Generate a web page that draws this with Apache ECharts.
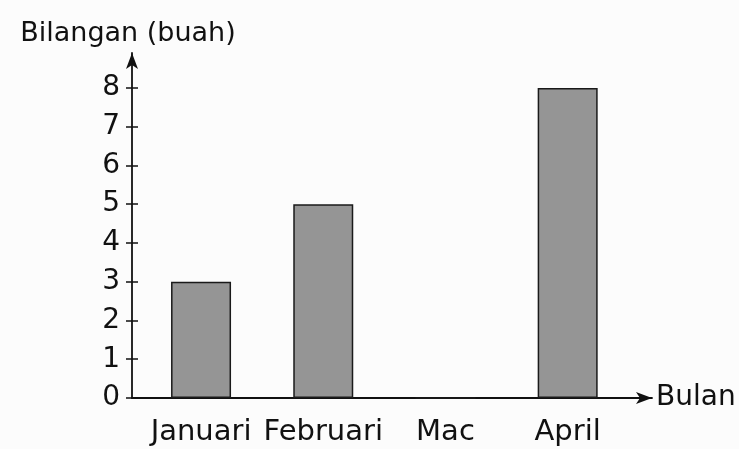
<!DOCTYPE html>
<html>
<head>
<meta charset="utf-8">
<script src="https://cdn.jsdelivr.net/npm/echarts@6/dist/echarts.min.js"></script>
<style>
  html, body { margin: 0; padding: 0; background: #fcfcfc; }
  #chart { width: 739px; height: 449px; }
</style>
</head>
<body>
<div id="chart"></div>
<script>
const months = ['Januari', 'Februari', 'Mac', 'April'];
const counts = [3, 5, 0, 8];
const yTicks = [0, 1, 2, 3, 4, 5, 6, 7, 8];

const font = 'DejaVu Sans';
const ink = '#111';

const chart = echarts.init(document.getElementById('chart'));

const barData = months.map((m, i) => [i, counts[i]]);

chart.setOption({
    backgroundColor: '#fcfcfc',
    animation: false,
    grid: { left: 132, right: 87, top: 53, bottom: 51 },
    xAxis: {
        type: 'value',
        min: -0.565,
        max: 3.69,
        splitLine: { show: false },
        axisLine: {
            onZero: false,
            lineStyle: { color: ink, width: 1.8 },
            symbol: ['none', 'arrow'],
            symbolSize: [9, 16]
        },
        axisTick: { show: false },
        axisLabel: {
            customValues: [0, 1, 2, 3],
            formatter: v => months[Math.round(v)],
            color: ink,
            fontFamily: font,
            fontSize: 29,
            margin: 20
        },
        name: 'Bulan',
        nameLocation: 'end',
        nameGap: 4,
        nameTextStyle: { color: ink, fontFamily: font, fontSize: 28 }
    },
    yAxis: [
        {
            type: 'value',
            min: 0,
            max: 8.9,
            splitLine: { show: false },
            axisLine: {
                show: true,
                onZero: false,
                lineStyle: { color: ink, width: 1.8 },
                symbol: ['none', 'arrow'],
                symbolSize: [9, 16]
            },
            axisTick: { show: true, length: 6, customValues: yTicks, lineStyle: { color: ink, width: 1.5 } },
            axisLabel: {
                customValues: yTicks,
                color: ink,
                fontFamily: font,
                fontSize: 28,
                margin: 12
            },
            name: 'Bilangan (buah)',
            nameLocation: 'end',
            nameGap: 6,
            nameTextStyle: { color: ink, fontFamily: font, fontSize: 27, align: 'center', padding: [0, 0, 0, -8] }
        },
        {
            type: 'value',
            min: 0,
            max: 8.9,
            position: 'left',
            splitLine: { show: false },
            axisLine: { show: false, onZero: false },
            axisTick: { show: true, inside: true, length: 6, customValues: yTicks, lineStyle: { color: ink, width: 1.5 } },
            axisLabel: { show: false }
        }
    ],
    series: [
        {
            type: 'bar',
            data: barData,
            barWidth: 60,
            itemStyle: { color: '#959595', borderColor: '#1a1a1a', borderWidth: 1.5 }
        }
    ]
});
</script>
</body>
</html>
